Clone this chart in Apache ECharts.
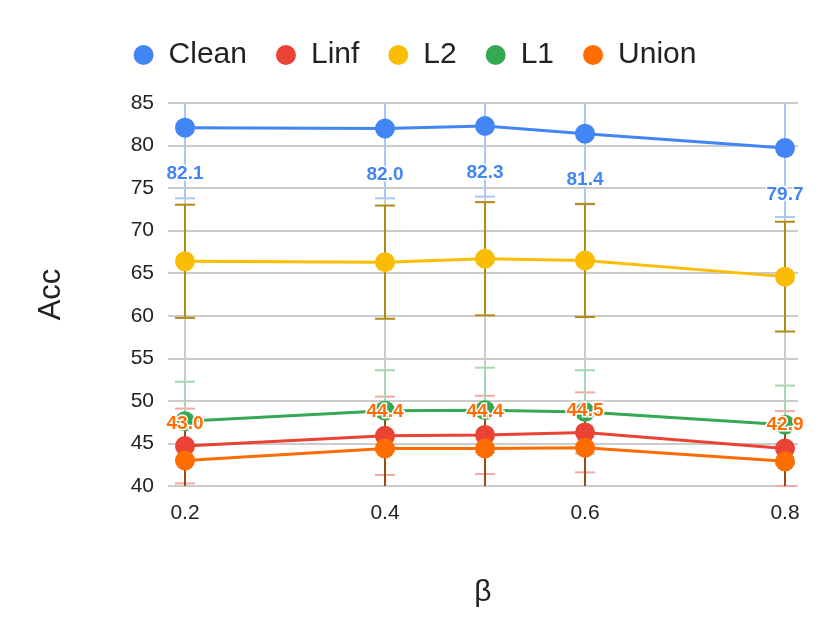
<!DOCTYPE html>
<html><head><meta charset="utf-8">
<script src="https://cdn.jsdelivr.net/npm/echarts@6/dist/echarts.min.js"></script>
<style>html,body{margin:0;padding:0;background:#fff}#c{width:830px;height:641px}</style>
</head><body><div id="c"></div>
<script>
const betas = [0.2, 0.4, 0.5, 0.6, 0.8];
const xTicks = [0.2, 0.4, 0.6, 0.8];
const seriesNames = ['Clean', 'Linf', 'L2', 'L1', 'Union'];
const clean = [82.1, 82.0, 82.3, 81.4, 79.7];
const linf = [44.7, 45.9, 46.0, 46.3, 44.4];
const l2 = [66.4, 66.3, 66.7, 66.5, 64.6];
const l1 = [47.6, 48.85, 48.9, 48.7, 47.2];
const union = [43.0, 44.4, 44.4, 44.5, 42.9];
const cleanErr = [8.3, 8.2, 8.3, 8.3, 8.1];
const linfErr = [4.4, 4.6, 4.6, 4.7, 4.4];
const l2Err = [6.65, 6.65, 6.65, 6.65, 6.45];
const l1Err = [4.65, 4.75, 5.0, 4.9, 4.6];
const unionErr = [4.6, 4.6, 4.6, 4.6, 4.6];

const FONT = "'Liberation Sans', Arial, sans-serif";
const colors = ['#4285F4', '#EA4335', '#FBBC04', '#34A853', '#FF6D01'];
const errColors = ['#A8C7FA', '#F5A9A2', '#B08A12', '#A6D9B3', '#9A4A14'];
const values = [clean, linf, l2, l1, union];
const errs = [cleanErr, linfErr, l2Err, l1Err, unionErr];
const Y_MIN = 40, Y_MAX = 85;

const chart = echarts.init(document.getElementById('c'), null, {renderer: 'canvas'});

function errSeries(i) {
  return {
    type: 'custom',
    name: seriesNames[i] + ' err',
    z: 2 + i,
    silent: true,
    data: betas.map((b, k) => [b, values[i][k] - errs[i][k], values[i][k] + errs[i][k]]),
    renderItem: function (params, api) {
      const x = api.value(0);
      const lo = Math.max(api.value(1), Y_MIN);
      const hi = Math.min(api.value(2), Y_MAX);
      const pLo = api.coord([x, lo]);
      const pHi = api.coord([x, hi]);
      const w = 10;
      const st = {stroke: errColors[i], lineWidth: 2, fill: null};
      const children = [
        {type: 'polyline', shape: {points: [[pLo[0], pLo[1]], [pHi[0], pHi[1]]]}, style: st}
      ];
      if (api.value(1) >= Y_MIN) children.push({type: 'polyline', shape: {points: [[pLo[0] - w, pLo[1]], [pLo[0] + w, pLo[1]]]}, style: st});
      if (api.value(2) <= Y_MAX) children.push({type: 'polyline', shape: {points: [[pHi[0] - w, pHi[1]], [pHi[0] + w, pHi[1]]]}, style: st});
      return {type: 'group', children: children};
    }
  };
}

const series = [];
// vertical grey guide lines at each beta
series.push({
  type: 'custom', name: 'guides', z: 1, silent: true,
  data: betas.map(b => [b]),
  renderItem: function (params, api) {
    const top = api.coord([api.value(0), Y_MAX]);
    const bot = api.coord([api.value(0), Y_MIN]);
    return {type: 'polyline', shape: {points: [[top[0], top[1]], [bot[0], bot[1]]]},
      style: {stroke: '#cccccc', lineWidth: 2, fill: null}};
  }
});
for (let i = 0; i < 5; i++) series.push(errSeries(i));
const labelCfg = {
  0: {position: 'bottom', distance: 27},
  4: {position: 'top', distance: 17}
};
for (let i = 0; i < 5; i++) {
  const lc = labelCfg[i];
  series.push({
    type: 'line',
    name: seriesNames[i],
    z: 10 + i,
    data: betas.map((b, k) => [b, values[i][k]]),
    symbol: 'circle',
    symbolSize: 20,
    showAllSymbol: true,
    lineStyle: {color: colors[i], width: 3},
    itemStyle: {color: colors[i]},
    label: lc ? {
      show: true, position: lc.position, distance: lc.distance,
      formatter: p => p.value[1].toFixed(1),
      color: colors[i], fontSize: 19, fontWeight: 'bold', fontFamily: FONT,
      textBorderColor: '#fff', textBorderWidth: 3
    } : {show: false},
    emphasis: {disabled: true}
  });
}

chart.setOption({
  animation: false,
  color: colors,
  legend: {
    data: seriesNames,
    top: 35, left: 'center',
    icon: 'circle', itemWidth: 20, itemHeight: 20, itemGap: 29,
    textStyle: {fontSize: 30, fontFamily: FONT, color: '#222', padding: [0, 0, 0, 10]}
  },
  grid: {left: 168, right: 32, top: 103, bottom: 155, containLabel: false},
  xAxis: {
    type: 'value', min: 0.183, max: 0.813,
    name: 'β', nameLocation: 'middle', nameGap: 92,
    nameTextStyle: {fontSize: 30, fontFamily: FONT, color: '#222'},
    axisLine: {show: false}, axisTick: {show: false},
    splitLine: {show: false},
    axisLabel: {customValues: xTicks, formatter: v => v.toFixed(1), fontSize: 21, fontFamily: FONT, color: '#222', margin: 17}
  },
  yAxis: {
    type: 'value', min: Y_MIN, max: Y_MAX, interval: 5,
    name: 'Acc', nameLocation: 'middle', nameGap: 101, nameRotate: 90,
    nameTextStyle: {fontSize: 31, fontFamily: FONT, color: '#222'},
    axisLine: {show: false}, axisTick: {show: false},
    splitLine: {lineStyle: {color: '#cccccc', width: 2}},
    axisLabel: {fontSize: 21, fontFamily: FONT, color: '#222', margin: 14}
  },
  series: series
});
</script></body></html>
